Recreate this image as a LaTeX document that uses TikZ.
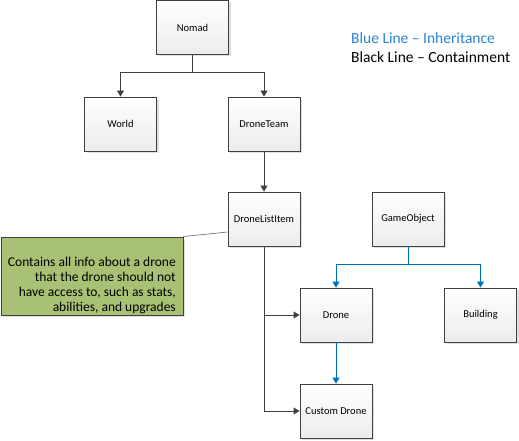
\documentclass[tikz,border=0pt]{standalone}
\usepackage{fontspec}
\setmainfont{Carlito}
\usetikzlibrary{arrows.meta,shadows}
\definecolor{boxline}{RGB}{64,64,64}
\definecolor{inhblue}{RGB}{0,112,192}
\definecolor{legblue}{RGB}{40,130,210}
\definecolor{notegreen}{RGB}{169,193,116}
\definecolor{boxbot}{RGB}{236,236,236}
\begin{document}
\begin{tikzpicture}[x=1pt,y=-1pt,
  cls/.style={draw=boxline,line width=0.9pt,top color=white,bottom color=boxbot,
    minimum width=72pt,minimum height=54pt,inner sep=0pt,font=\fontsize{10.5}{12}\selectfont,
    drop shadow={shadow xshift=2pt,shadow yshift=-2pt,fill=black!12,opacity=1}},
  contain/.style={draw=boxline,line width=0.9pt,-{Triangle[length=6pt,width=7pt]}},
  inherit/.style={draw=inhblue,line width=0.9pt,-{Triangle[length=6pt,width=7pt]}},
  note/.style={draw=boxline,line width=0.9pt,fill=notegreen,minimum width=182pt,minimum height=78pt,
    drop shadow={shadow xshift=2pt,shadow yshift=-2pt,fill=black!12,opacity=1}},
  notetext/.style={anchor=south east,align=right,inner sep=0pt,font=\fontsize{13.5}{15}\selectfont},
  legend/.style={anchor=west,inner sep=0pt,font=\fontsize{15.5}{18}\selectfont}]
\useasboundingbox (0,0) rectangle (519,441);
\node[cls] (nomad) at (192.5,27.5) {Nomad};
\node[cls] (world) at (120.5,124) {World};
\node[cls] (team) at (264,124) {DroneTeam};
\node[cls] (dli) at (264,219) {DroneListItem};
\node[cls] (go) at (408,219) {GameObject};
\node[cls] (drone) at (336,315) {Drone};
\node[cls] (bld) at (480.5,315) {Building};
\node[cls] (cd) at (336,411) {Custom Drone};
\node[note] (nt) at (92,276) {};
\node[notetext] (ntt) at (176,314.5) {Contains all info about a drone\\that the drone should not\\have access to, such as stats,\\abilities, and upgrades};
\node[legend,text=legblue] (l1) at (351,38.5) {Blue Line -- Inheritance};
\node[legend] (l2) at (351,57.5) {Black Line -- Containment};
\coordinate (j1) at (192.5,72);
\coordinate (j2) at (408,264);
\draw[contain] (nomad.south) -- (j1) -| (world.north);
\draw[contain] (j1) -| (team.north);
\draw[contain] (team.south) -- (dli.north);
\draw[contain] (dli.south) |- (drone.west);
\draw[contain] (dli.south) |- (cd.west);
\draw[inherit] (go.south) -- (j2) -| (drone.north);
\draw[inherit] (j2) -| (bld.north);
\draw[inherit] (drone.south) -- (cd.north);
\draw[draw=boxline!80,line width=0.6pt] (nt.north east) -- ([yshift=-13pt]dli.west);
\end{tikzpicture}
\end{document}
